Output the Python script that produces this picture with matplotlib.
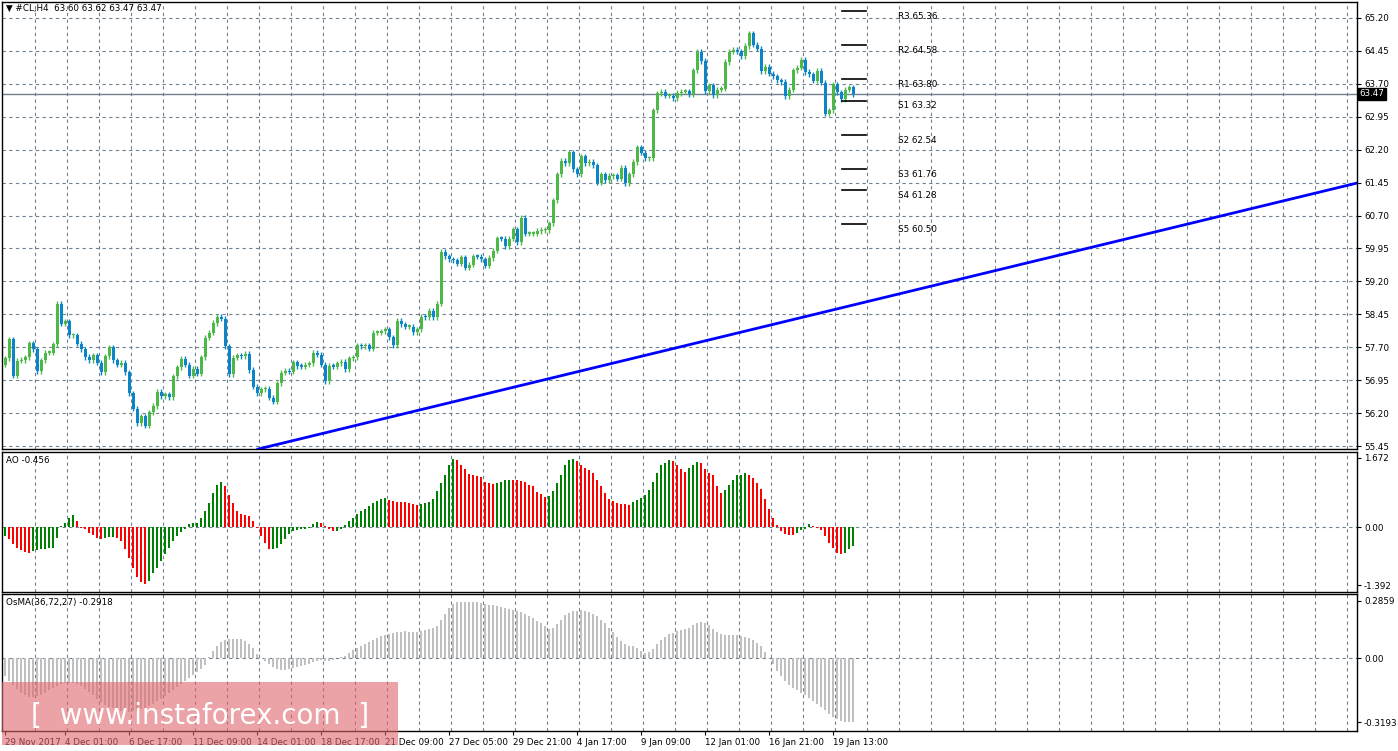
import numpy as np
import matplotlib
matplotlib.use("Agg")
import matplotlib.pyplot as plt
from matplotlib.patches import Rectangle

# ---- data ----
closes = [57.45, 57.88, 57.05, 57.39, 57.41, 57.47, 57.79, 57.65, 57.16, 57.40,
          57.58, 57.58, 57.77, 58.69, 58.24, 58.29, 57.97, 57.97, 57.78, 57.65,
          57.48, 57.40, 57.52, 57.35, 57.13, 57.49, 57.70, 57.40, 57.30, 57.34,
          57.13, 56.65, 56.30, 55.97, 56.13, 55.91, 56.22, 56.36, 56.68, 56.59,
          56.63, 56.56, 57.04, 57.24, 57.43, 57.30, 57.05, 57.21, 57.10, 57.47,
          57.92, 58.03, 58.25, 58.39, 58.35, 57.72, 57.08, 57.46, 57.52, 57.49,
          57.55, 57.18, 56.80, 56.65, 56.74, 56.76, 56.55, 56.46, 56.88, 57.12,
          57.16, 57.14, 57.36, 57.27, 57.26, 57.30, 57.33, 57.57, 57.53, 57.30,
          56.92, 57.28, 57.26, 57.33, 57.37, 57.20, 57.45, 57.47, 57.74, 57.73,
          57.74, 57.67, 58.03, 58.03, 58.06, 58.11, 57.93, 57.74, 58.30, 58.22,
          58.17, 58.17, 58.04, 58.11, 58.40, 58.38, 58.53, 58.39, 58.69, 59.88,
          59.77, 59.70, 59.68, 59.60, 59.75, 59.51, 59.58, 59.77, 59.76, 59.70,
          59.56, 59.73, 59.90, 60.18, 60.17, 60.00, 60.17, 60.39, 60.10, 60.65,
          60.29, 60.29, 60.29, 60.35, 60.37, 60.37, 60.52, 61.05, 61.64, 61.94,
          61.89, 62.14, 61.75, 61.64, 62.05, 61.89, 61.92, 61.84, 61.45, 61.64,
          61.51, 61.60, 61.62, 61.54, 61.79, 61.44, 61.64, 61.92, 62.25, 62.13,
          62.00, 62.00, 63.10, 63.48, 63.52, 63.43, 63.43, 63.38, 63.49, 63.52,
          63.53, 63.46, 64.01, 64.43, 64.22, 63.53, 63.67, 63.44, 63.57, 63.59,
          64.20, 64.43, 64.47, 64.44, 64.33, 64.56, 64.85, 64.59, 64.50, 63.99,
          64.09, 63.93, 63.87, 63.78, 63.74, 63.42, 63.57, 64.01, 64.07, 64.25,
          63.97, 63.92, 63.77, 63.99, 63.73, 63.02, 63.10, 63.69, 63.51, 63.35,
          63.57, 63.62, 63.47]
first_open = 57.30

ao = [-0.22, -0.29, -0.41, -0.49, -0.54, -0.59, -0.61, -0.57, -0.55, -0.53,
      -0.52, -0.51, -0.50, -0.25, 0.02, 0.11, 0.23, 0.30, 0.15, -0.01,
      -0.05, -0.13, -0.19, -0.27, -0.29, -0.25, -0.24, -0.23, -0.26, -0.33,
      -0.53, -0.73, -0.97, -1.21, -1.33, -1.37, -1.29, -1.09, -0.97, -0.81,
      -0.65, -0.49, -0.33, -0.21, -0.11, -0.05, 0.07, 0.10, 0.11, 0.22,
      0.39, 0.59, 0.83, 1.03, 1.09, 0.99, 0.79, 0.59, 0.39, 0.31,
      0.30, 0.27, 0.15, -0.01, -0.22, -0.37, -0.53, -0.52, -0.49, -0.41,
      -0.29, -0.17, -0.09, -0.07, -0.05, -0.03, -0.01, 0.07, 0.13, 0.10,
      0.02, -0.03, -0.09, -0.08, -0.03, 0.05, 0.15, 0.23, 0.31, 0.39,
      0.45, 0.51, 0.58, 0.64, 0.68, 0.70, 0.66, 0.63, 0.62, 0.61,
      0.60, 0.59, 0.55, 0.53, 0.55, 0.58, 0.61, 0.67, 0.87, 1.07,
      1.27, 1.51, 1.65, 1.63, 1.51, 1.41, 1.29, 1.25, 1.23, 1.22,
      1.09, 1.07, 1.05, 1.07, 1.10, 1.13, 1.15, 1.13, 1.13, 1.11,
      1.10, 1.03, 0.99, 0.85, 0.81, 0.73, 0.75, 0.87, 1.07, 1.27,
      1.49, 1.63, 1.65, 1.59, 1.51, 1.43, 1.38, 1.30, 1.15, 0.99,
      0.83, 0.69, 0.63, 0.59, 0.57, 0.55, 0.53, 0.61, 0.66, 0.71,
      0.79, 0.91, 1.09, 1.31, 1.49, 1.55, 1.63, 1.59, 1.49, 1.41,
      1.33, 1.43, 1.51, 1.57, 1.55, 1.41, 1.31, 1.25, 0.99, 0.83,
      0.89, 1.03, 1.13, 1.25, 1.27, 1.31, 1.27, 1.19, 1.07, 0.93,
      0.69, 0.45, 0.23, 0.05, -0.09, -0.17, -0.19, -0.19, -0.13, -0.06,
      -0.03, 0.07, 0.03, -0.02, -0.06, -0.22, -0.37, -0.49, -0.61, -0.65,
      -0.61, -0.53, -0.456]

osma = [-0.087, -0.112, -0.136, -0.156, -0.173, -0.186, -0.192, -0.194, -0.189, -0.182,
        -0.173, -0.161, -0.150, -0.140, -0.131, -0.125, -0.123, -0.125, -0.130, -0.140,
        -0.153, -0.169, -0.186, -0.202, -0.218, -0.232, -0.243, -0.251, -0.260, -0.264,
        -0.268, -0.268, -0.266, -0.263, -0.256, -0.248, -0.238, -0.227, -0.214, -0.202,
        -0.189, -0.174, -0.159, -0.145, -0.130, -0.115, -0.100, -0.085, -0.067, -0.054,
        -0.035, 0.003, 0.036, 0.061, 0.081, 0.090, 0.094, 0.094, 0.097, 0.094,
        0.085, 0.069, 0.048, 0.020, 0.000, -0.013, -0.030, -0.046, -0.054, -0.058,
        -0.058, -0.054, -0.051, -0.046, -0.041, -0.035, -0.028, -0.021, -0.015, -0.012,
        -0.015, -0.013, -0.008, -0.002, 0.005, 0.012, 0.025, 0.038, 0.051, 0.061,
        0.071, 0.081, 0.090, 0.100, 0.108, 0.117, 0.122, 0.127, 0.130, 0.131,
        0.133, 0.131, 0.130, 0.131, 0.135, 0.140, 0.143, 0.148, 0.159, 0.189,
        0.222, 0.250, 0.268, 0.278, 0.281, 0.281, 0.281, 0.281, 0.279, 0.276,
        0.271, 0.266, 0.263, 0.260, 0.256, 0.251, 0.246, 0.240, 0.235, 0.228,
        0.222, 0.212, 0.200, 0.187, 0.173, 0.159, 0.146, 0.151, 0.168, 0.192,
        0.214, 0.225, 0.233, 0.237, 0.238, 0.237, 0.232, 0.222, 0.209, 0.192,
        0.173, 0.151, 0.130, 0.107, 0.085, 0.069, 0.061, 0.058, 0.048, 0.036,
        0.025, 0.028, 0.044, 0.069, 0.090, 0.107, 0.118, 0.127, 0.133, 0.138,
        0.143, 0.151, 0.163, 0.173, 0.182, 0.176, 0.163, 0.143, 0.130, 0.118,
        0.115, 0.115, 0.117, 0.117, 0.110, 0.107, 0.100, 0.090, 0.077, 0.058,
        0.028, 0.002, -0.030, -0.062, -0.087, -0.112, -0.133, -0.150, -0.161, -0.174,
        -0.186, -0.199, -0.212, -0.227, -0.243, -0.260, -0.279, -0.292, -0.304, -0.312,
        -0.317, -0.319, -0.319]

price_ticks = [65.20, 64.45, 63.70, 62.95, 62.20, 61.45, 60.70, 59.95, 59.20,
               58.45, 57.70, 56.95, 56.20, 55.45]
pivot_names = ["R3", "R2", "R1", "S1", "S2", "S3", "S4", "S5"]
pivot_values = [65.36, 64.58, 63.80, 63.32, 62.54, 61.76, 61.28, 60.50]
date_labels = ["29 Nov 2017", "4 Dec 01:00", "6 Dec 17:00", "11 Dec 09:00",
               "14 Dec 01:00", "18 Dec 17:00", "21 Dec 09:00", "27 Dec 05:00",
               "29 Dec 21:00", "4 Jan 17:00", "9 Jan 09:00", "12 Jan 01:00",
               "16 Jan 21:00", "19 Jan 13:00"]
date_bars = [0, 15, 31, 47, 63, 79, 95, 111, 127, 143, 159, 175, 191, 207]
trend_bars = [63.25, 338]
trend_prices = [55.38, 61.44]
last_price = 63.47

UP, DOWN = "#4CB848", "#0A86C8"
GRID = "#708090"
W, H = 1398, 751
n = len(closes)
xlim = (-0.75, 338)
FS = 6.3

fig = plt.figure(figsize=(W / 100, H / 100), dpi=100)
fig.patch.set_facecolor("white")


def make_ax(top, bottom):
    ax = fig.add_axes([2 / W, 1 - bottom / H, 1355 / W, (bottom - top) / H])
    ax.set_xlim(*xlim)
    for s in ax.spines.values():
        s.set_color("black")
        s.set_linewidth(1)
    ax.yaxis.tick_right()
    ax.tick_params(axis="y", labelsize=FS, length=3, pad=2)
    ax.set_xticks([])
    for v in np.arange(7.5, 338, 8):
        ax.axvline(v, color=GRID, lw=0.8, ls=(0, (3, 3)), zorder=0)
    return ax


# ---- price panel ----
ax = make_ax(2, 449)
ax.set_ylim(55.382, 65.564)
ax.set_yticks(price_ticks)
ax.set_yticklabels([f"{p:.2f}" for p in price_ticks])
for p in price_ticks:
    ax.axhline(p, color=GRID, lw=0.8, ls=(0, (3, 3)), zorder=0)

opens = [first_open] + closes[:-1]
for i, (o, c) in enumerate(zip(opens, closes)):
    col = UP if c >= o else DOWN
    hi, lo = max(o, c) + 0.06, min(o, c) - 0.06
    ax.vlines(i, lo, hi, color=col, lw=1, zorder=3)
    ax.bar(i, max(abs(c - o), 0.03), bottom=min(o, c), width=0.75,
           color=col, lw=0, zorder=4)

ax.plot(trend_bars, trend_prices, color="#0000FF", lw=2, zorder=5)
ax.axhline(last_price, color=GRID, lw=1, zorder=2)
ax.text(1.002, last_price, f"{last_price:.2f}", transform=ax.get_yaxis_transform(),
        fontsize=FS, color="white", va="center", ha="left",
        bbox=dict(facecolor="black", edgecolor="black", pad=1.2))
for name, v in zip(pivot_names, pivot_values):
    ax.plot([209.25, 215.25], [v, v], color="black", lw=1.2, zorder=5)
    ax.text(223.25, v - 0.02, f"{name} {v:.2f}", fontsize=FS, va="top", ha="left")
ax.text(0.003, 0.995, "▼ #CL,H4  63.60 63.62 63.47 63.47", transform=ax.transAxes,
        fontsize=FS, va="top", ha="left")

# ---- AO panel ----
ax2 = make_ax(452, 592)
ax2.set_ylim(-1.56, 1.815)
ax2.set_yticks([1.672, 0.0, -1.392])
ax2.set_yticklabels(["1.672", "0.00", "-1.392"])
ax2.axhline(0, color=GRID, lw=0.8, ls=(0, (3, 3)), zorder=0)
ao_x = np.arange(n - len(ao), n)
ao_cols = ["#008000" if i == 0 or ao[i] > ao[i - 1] else "#FF0000" for i in range(len(ao))]
ax2.bar(ao_x, ao, width=0.6, color=ao_cols, zorder=3)
ax2.text(0.003, 0.97, "AO -0.456", transform=ax2.transAxes, fontsize=FS, va="top")

# ---- OsMA panel ----
ax3 = make_ax(594, 731)
ax3.set_ylim(-0.364, 0.32)
ax3.set_yticks([0.2859, 0.0, -0.3193])
ax3.set_yticklabels(["0.2859", "0.00", "-0.3193"])
ax3.axhline(0, color=GRID, lw=0.8, ls=(0, (3, 3)), zorder=0)
os_x = np.arange(n - len(osma), n)
ax3.bar(os_x, osma, width=0.6, color="#C0C0C0", zorder=3)
ax3.text(0.003, 0.97, "OsMA(36,72,27) -0.2918", transform=ax3.transAxes, fontsize=FS, va="top")
ax3.set_xticks(date_bars)
ax3.set_xticklabels(date_labels, fontsize=FS, ha="left")
ax3.tick_params(axis="x", length=3, pad=2)

# ---- watermark ----
fig.patches.append(Rectangle((2 / W, 1 - 745 / H), 396 / W, 63 / H, transform=fig.transFigure,
                             facecolor="#E0666C", alpha=0.6, edgecolor="none", zorder=10))
fig.text(200 / W, 1 - 716 / H, "[  www.instaforex.com  ]", fontsize=20, color="white",
         ha="center", va="center", family="DejaVu Sans", zorder=11)

fig.savefig("out.png", dpi=100, facecolor="white")
